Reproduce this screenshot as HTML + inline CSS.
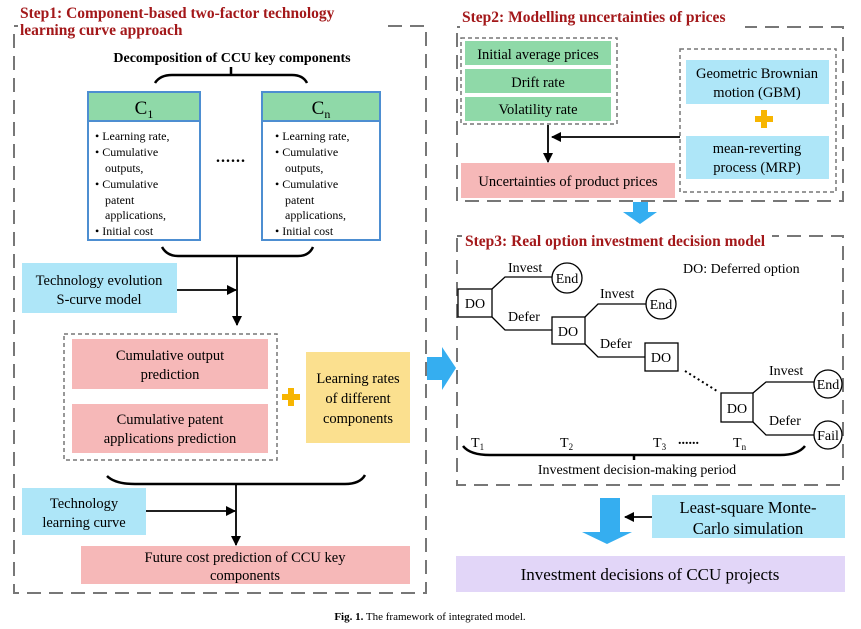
<!DOCTYPE html>
<html><head><meta charset="utf-8"><style>
html,body{margin:0;padding:0;background:#fff;}
svg{display:block;font-family:"Liberation Serif",serif;}
</style></head><body>
<svg width="861" height="629" viewBox="0 0 861 629" xmlns="http://www.w3.org/2000/svg">
<defs>
<marker id="ah" markerWidth="10" markerHeight="10" refX="9" refY="5" orient="auto" markerUnits="userSpaceOnUse"><path d="M0,0 L10,5 L0,10 z" fill="#000"/></marker>
</defs>
<g fill="none" stroke="#777" stroke-width="2" stroke-dasharray="14,8">
<rect x="14" y="26" width="412" height="567"/>
<rect x="457" y="27" width="386" height="174"/>
<rect x="457" y="236" width="386" height="249"/>
</g>
<rect x="18" y="2" width="362" height="38" fill="#fff"/>
<rect x="460" y="5" width="285" height="28" fill="#fff"/>
<rect x="462" y="228" width="310" height="22" fill="#fff"/>
<g fill="none" stroke="#777" stroke-width="1.5" stroke-dasharray="4,3">
<rect x="64" y="334" width="213" height="126"/>
<rect x="461" y="38" width="156" height="86"/>
<rect x="680" y="49" width="156" height="143"/>
</g>
<g font-weight="bold" fill="#a3181a" font-size="15.5">
<text x="20" y="18">Step1: Component-based two-factor technology</text>
<text x="20" y="35">learning curve approach</text>
<text x="462" y="22">Step2: Modelling uncertainties of prices</text>
<text x="465" y="246">Step3: Real option investment decision model</text>
</g>
<text x="232" y="62" font-size="14" font-weight="bold" text-anchor="middle">Decomposition of CCU key components</text>
<g fill="none" stroke="#000" stroke-width="2.5">
<path d="M155,83 Q160,75 172,75 L292,75 Q303,75 307,83 M231,67 L231,75"/>
<path d="M162,247 Q167,256 178,256 L298,256 Q309,256 313,247"/>
<path d="M107,476 Q115,484 135,484 L345,484 Q360,484 365,475"/>
<path d="M463,446 Q470,455 490,455 L780,455 Q798,455 805,446 M634,455 L634,460"/>
</g>
<g stroke="#4d8ed1" stroke-width="2">
<rect x="88" y="92" width="112" height="148" fill="#fff"/>
<rect x="88" y="92" width="112" height="29" fill="#8fd9a8"/>
<rect x="262" y="92" width="118" height="148" fill="#fff"/>
<rect x="262" y="92" width="118" height="29" fill="#8fd9a8"/>
</g>
<text x="144" y="114" font-size="19" text-anchor="middle">C<tspan font-size="12" dy="4">1</tspan></text>
<text x="321" y="114" font-size="19" text-anchor="middle">C<tspan font-size="12" dy="4">n</tspan></text>
<g font-size="12">
<text x="95" y="140">• Learning rate,</text><text x="95" y="156">• Cumulative</text><text x="105" y="172">outputs,</text><text x="95" y="188">• Cumulative</text><text x="105" y="204">patent</text><text x="105" y="219">applications,</text><text x="95" y="235">• Initial cost</text>
<text x="275" y="140">• Learning rate,</text><text x="275" y="156">• Cumulative</text><text x="285" y="172">outputs,</text><text x="275" y="188">• Cumulative</text><text x="285" y="204">patent</text><text x="285" y="219">applications,</text><text x="275" y="235">• Initial cost</text>
</g>
<text x="231" y="162" font-size="16" font-weight="bold" text-anchor="middle" letter-spacing="1">......</text>
<rect x="22" y="263" width="155" height="50" fill="#aee6f8"/>
<text x="99" y="285" font-size="14.5" text-anchor="middle">Technology evolution</text>
<text x="99" y="304" font-size="14.5" text-anchor="middle">S-curve model</text>
<g stroke="#000" stroke-width="1.8" fill="none">
<line x1="237" y1="256" x2="237" y2="325" marker-end="url(#ah)"/>
<line x1="177" y1="290" x2="236" y2="290" marker-end="url(#ah)"/>
<line x1="236" y1="484" x2="236" y2="545" marker-end="url(#ah)"/>
<line x1="146" y1="511" x2="235" y2="511" marker-end="url(#ah)"/>
<polyline points="680,137 552,137" marker-end="url(#ah)"/>
<line x1="548" y1="125" x2="548" y2="162" marker-end="url(#ah)"/>
<line x1="652" y1="517" x2="625" y2="517" marker-end="url(#ah)"/>
</g>
<rect x="72" y="339" width="196" height="50" fill="#f6b8b8"/>
<rect x="72" y="404" width="196" height="49" fill="#f6b8b8"/>
<g font-size="14.5" text-anchor="middle">
<text x="170" y="360">Cumulative output</text><text x="170" y="379">prediction</text>
<text x="170" y="424">Cumulative patent</text><text x="170" y="443">applications prediction</text>
</g>
<rect x="306" y="352" width="104" height="91" fill="#fbe08f"/>
<g font-size="14.5" text-anchor="middle"><text x="358" y="383">Learning rates</text><text x="358" y="403">of different</text><text x="358" y="423">components</text></g>
<g fill="#f7b500"><rect x="282" y="394" width="18" height="6"/><rect x="288" y="388" width="6" height="18"/>
<rect x="755" y="116" width="18" height="6"/><rect x="761" y="110" width="6" height="18"/></g>
<rect x="22" y="488" width="124" height="47" fill="#aee6f8"/>
<text x="84" y="508" font-size="14.5" text-anchor="middle">Technology</text>
<text x="84" y="527" font-size="14.5" text-anchor="middle">learning curve</text>
<rect x="81" y="546" width="329" height="38" fill="#f6b8b8"/>
<text x="245" y="562" font-size="14.5" text-anchor="middle">Future cost prediction of CCU key</text>
<text x="245" y="580" font-size="14.5" text-anchor="middle">components</text>
<rect x="465" y="41" width="146" height="24" fill="#8fd9a8"/>
<rect x="465" y="69" width="146" height="24" fill="#8fd9a8"/>
<rect x="465" y="97" width="146" height="24" fill="#8fd9a8"/>
<g font-size="14.5" text-anchor="middle"><text x="538" y="59">Initial average prices</text><text x="538" y="87">Drift rate</text><text x="538" y="114">Volatility rate</text></g>
<rect x="686" y="60" width="143" height="44" fill="#aee6f8"/>
<rect x="686" y="136" width="143" height="43" fill="#aee6f8"/>
<g font-size="14.5" text-anchor="middle"><text x="757" y="78">Geometric Brownian</text><text x="757" y="97">motion (GBM)</text><text x="757" y="153">mean-reverting</text><text x="757" y="172">process (MRP)</text></g>
<rect x="461" y="163" width="214" height="35" fill="#f6b8b8"/>
<text x="568" y="186" font-size="14.5" text-anchor="middle">Uncertainties of product prices</text>
<path d="M633,202 L648,202 L648,212 L657,212 L640,224 L623,212 L633,212 z" fill="#35aef0"/>
<path d="M427,357 L442,357 L442,347 L456,368 L442,390 L442,380 L427,380 z" fill="#35aef0"/>
<path d="M600,498 L620,498 L620,532 L632,532 L607,544 L582,532 L600,532 z" fill="#35aef0"/>
<g stroke="#000" stroke-width="1.3" fill="#fff">
<rect x="458" y="289" width="34" height="28"/><rect x="552" y="317" width="33" height="27"/>
<rect x="645" y="343" width="33" height="28"/><rect x="721" y="393" width="32" height="29"/>
<circle cx="567" cy="278" r="15"/><circle cx="661" cy="304" r="15"/>
<circle cx="828" cy="384" r="14"/><circle cx="828" cy="435" r="14"/>
<path fill="none" d="M492,289 L505,277 L552,277 M492,317 L505,330 L552,330 M585,317 L598,304 L646,304 M585,344 L598,357 L645,357 M753,393 L766,382 L814,382 M753,422 L766,435 L814,435"/>
</g>
<line x1="685" y1="371" x2="717" y2="391" stroke="#000" stroke-width="2" stroke-dasharray="2,3"/>
<g font-size="14">
<text x="475" y="308" text-anchor="middle">DO</text><text x="568" y="336" text-anchor="middle">DO</text>
<text x="661" y="362" text-anchor="middle">DO</text><text x="737" y="413" text-anchor="middle">DO</text>
<text x="567" y="283" text-anchor="middle">End</text><text x="661" y="309" text-anchor="middle">End</text>
<text x="828" y="389" text-anchor="middle">End</text><text x="828" y="440" text-anchor="middle">Fail</text>
<text x="508" y="272">Invest</text><text x="600" y="298">Invest</text><text x="769" y="375">Invest</text>
<text x="508" y="321">Defer</text><text x="600" y="348">Defer</text><text x="769" y="425">Defer</text>
<text x="683" y="273">DO: Deferred option</text>
<text x="471" y="447">T<tspan font-size="9" dy="3">1</tspan></text>
<text x="560" y="447">T<tspan font-size="9" dy="3">2</tspan></text>
<text x="653" y="447">T<tspan font-size="9" dy="3">3</tspan></text>
<text x="733" y="447">T<tspan font-size="9" dy="3">n</tspan></text>
<text x="637" y="474" text-anchor="middle">Investment decision-making period</text>
</g>
<text x="678" y="444" font-size="14" font-weight="bold">......</text>
<rect x="652" y="495" width="193" height="43" fill="#aee6f8"/>
<text x="748" y="513" font-size="16.5" text-anchor="middle">Least-square Monte-</text>
<text x="748" y="534" font-size="16.5" text-anchor="middle">Carlo simulation</text>
<rect x="456" y="556" width="389" height="36" fill="#e2d6f8"/>
<text x="650" y="580" font-size="17" text-anchor="middle">Investment decisions of CCU projects</text>
<text x="430" y="620" font-size="11" text-anchor="middle"><tspan font-weight="bold">Fig. 1.</tspan> The framework of integrated model.</text>
</svg>
</body></html>
